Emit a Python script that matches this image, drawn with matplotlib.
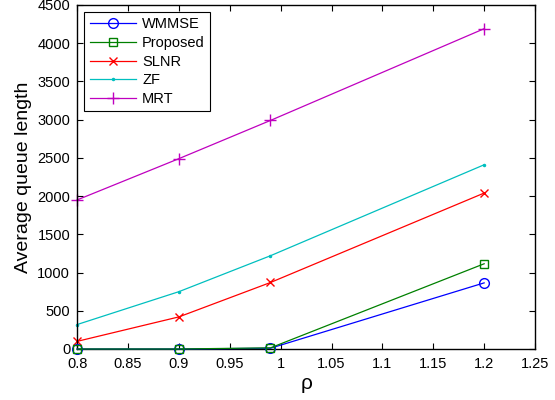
import numpy as np
import matplotlib.pyplot as plt

plt.rcParams['font.family'] = ['Liberation Sans', 'DejaVu Sans']

rho = [0.8, 0.9, 0.99, 1.2]
wmmse = [0, 0, 10, 865]
proposed = [0, 0, 15, 1115]
slnr = [100, 420, 870, 2040]
zf = [320, 750, 1220, 2410]
mrt = [1950, 2490, 2990, 4190]

fig = plt.figure(figsize=(5.55, 4.0), dpi=100)
ax = fig.add_axes([0.139, 0.1275, 0.825, 0.86])

ax.plot(rho, wmmse, '-', marker='o', color='b', mfc='none', ms=7, lw=0.9, label='WMMSE', clip_on=False, zorder=3)
ax.plot(rho, proposed, '-', marker='s', color='#008000', mfc='none', ms=6, lw=0.9, label='Proposed', clip_on=False, zorder=4)
ax.plot(rho, slnr, '-', marker='x', color='r', ms=6, lw=0.9, label='SLNR', clip_on=False)
ax.plot(rho, zf, '-', marker='.', color='#00bfbf', ms=3, lw=0.9, label='ZF', clip_on=False)
ax.plot(rho, mrt, '-', marker='+', color='m', ms=8, lw=0.9, label='MRT', clip_on=False)

ax.set_xlim(0.8, 1.25)
ax.set_ylim(0, 4500)
ax.set_xticks(np.arange(0.8, 1.2501, 0.05))
ax.set_xticklabels(['0.8', '0.85', '0.9', '0.95', '1', '1.05', '1.1', '1.15', '1.2', '1.25'])
ax.set_yticks(np.arange(0, 4501, 500))
ax.tick_params(direction='in', top=True, right=True, labelsize=10.5, length=4)
ax.tick_params(axis='x', pad=6)
ax.tick_params(axis='y', pad=5)
for s in ax.spines.values():
    s.set_linewidth(1.0)

ax.set_xlabel(r'ρ', fontsize=15, labelpad=2)
ax.set_ylabel('Average queue length', fontsize=14)

leg = ax.legend(loc='upper left', fontsize=10.5, fancybox=False, edgecolor='black',
                framealpha=1, borderpad=0.35, labelspacing=0.32, handlelength=3.2,
                handletextpad=0.4, borderaxespad=0.5)
leg.get_frame().set_linewidth(0.8)

fig.savefig('out.png', dpi=100)
